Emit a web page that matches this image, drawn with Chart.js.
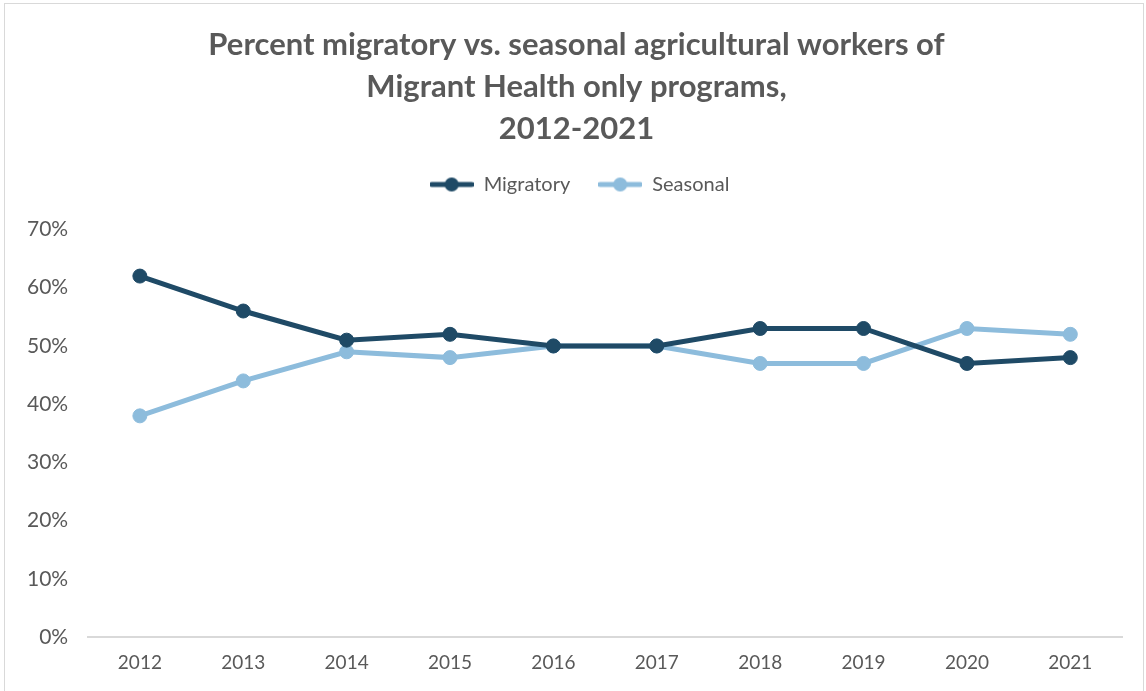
<!DOCTYPE html>
<html>
<head>
<meta charset="utf-8">
<script src="https://cdn.jsdelivr.net/npm/chart.js@4/dist/chart.umd.min.js"></script>
<style>
  html, body { margin: 0; padding: 0; background: #fff; }
  #wrap { position: absolute; left: 4px; top: 3px; width: 1140px; height: 700px; border: 1px solid #d9d9d9; box-sizing: border-box; }
  canvas { display: block; }
</style>
</head>
<body>
<div id="wrap"><canvas id="myChart"></canvas></div>
<script>
'use strict';

let years = ['2012', '2013', '2014', '2015', '2016', '2017', '2018', '2019', '2020', '2021'];
let migratory = [62, 56, 51, 52, 50, 50, 53, 53, 47, 48];
let seasonal = [38, 44, 49, 48, 50, 50, 47, 47, 53, 52];
let titleLines = ['Percent migratory vs. seasonal agricultural workers of', 'Migrant Health only programs,', '2012-2021'];

let darkBlue = '#1f4a66';
let lightBlue = '#8dbcdc';
let textGray = '#595959';

// legend marker: short line with a dot in the middle
function legendMarker(color) {
    let c = document.createElement('canvas');
    c.width = 44;
    c.height = 16;
    let g = c.getContext('2d');
    g.strokeStyle = color;
    g.lineWidth = 5;
    g.lineCap = 'round';
    g.beginPath();
    g.moveTo(2, 8);
    g.lineTo(42, 8);
    g.stroke();
    g.fillStyle = color;
    g.beginPath();
    g.arc(22, 8, 7, 0, Math.PI * 2);
    g.fill();
    return c;
}

// extra space under the legend, and center title/legend on the whole box
let legendGap = {
    id: 'legendGap',
    beforeInit: function (chart) {
        let fit = chart.legend.fit;
        chart.legend.fit = function () {
            fit.bind(chart.legend)();
            this.height += 21;
        };
    },
    afterLayout: function (chart) {
        chart.titleBlock.left += 12;
        chart.titleBlock.right += 12;
        chart.legend.left += 15;
        chart.legend.right += 15;
        chart.legend.top -= 4;
        chart.legend.bottom -= 4;
    }
};

let ctx = document.getElementById('myChart').getContext('2d');
let myChart = new Chart(ctx, {
    type: 'line',
    data: {
        labels: years,
        datasets: [{
            label: 'Migratory',
            data: migratory,
            borderColor: darkBlue,
            backgroundColor: darkBlue,
            borderWidth: 5,
            pointRadius: 7,
            pointBorderWidth: 1,
            pointHoverRadius: 7,
            marker: legendMarker(darkBlue)
        }, {
            label: 'Seasonal',
            data: seasonal,
            borderColor: lightBlue,
            backgroundColor: lightBlue,
            borderWidth: 5,
            pointRadius: 7,
            pointBorderWidth: 1,
            pointHoverRadius: 7,
            marker: legendMarker(lightBlue)
        }]
    },
    plugins: [legendGap],
    options: {
        responsive: true,
        maintainAspectRatio: false,
        animation: false,
        layout: { padding: { left: 2, right: 21, top: 0, bottom: 14 } },
        plugins: {
            title: {
                display: true,
                text: titleLines,
                color: textGray,
                font: { family: 'Lato', size: 31, weight: 'bold', lineHeight: 1.36 },
                padding: { top: 20, bottom: 0 }
            },
            legend: {
                position: 'top',
                labels: {
                    color: textGray,
                    font: { family: 'Lato', size: 20 },
                    usePointStyle: true,
                    pointStyleWidth: 44,
                    boxHeight: 16,
                    padding: 28,
                    generateLabels: function (chart) {
                        return chart.data.datasets.map(function (ds, i) {
                            return {
                                text: ds.label,
                                pointStyle: ds.marker,
                                fontColor: textGray,
                                strokeStyle: ds.borderColor,
                                fillStyle: ds.borderColor,
                                lineWidth: 0,
                                datasetIndex: i,
                                hidden: false
                            };
                        });
                    }
                }
            },
            tooltip: { enabled: false }
        },
        scales: {
            x: {
                offset: true,
                grid: { display: false, drawTicks: false },
                border: { color: '#d9d9d9', width: 2 },
                ticks: { color: textGray, font: { family: 'Lato', size: 19 }, padding: 14 }
            },
            y: {
                min: 0,
                max: 70,
                grid: { display: false, drawTicks: false },
                border: { display: false },
                ticks: {
                    stepSize: 10,
                    color: textGray,
                    font: { family: 'Lato', size: 21 },
                    padding: 20,
                    callback: function (v) { return v + '%'; }
                }
            }
        }
    }
});
</script>
</body>
</html>
